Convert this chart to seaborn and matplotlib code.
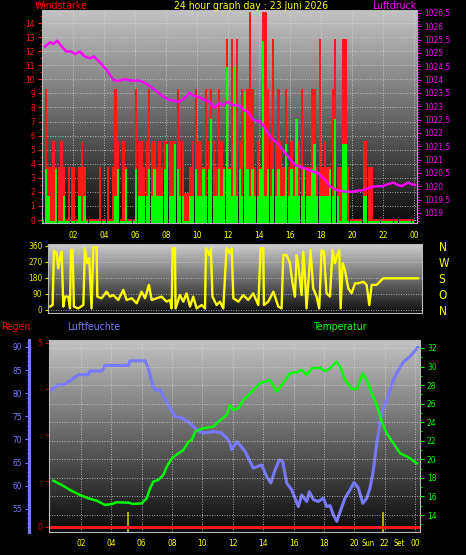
import numpy as np
import matplotlib
matplotlib.use("Agg")
import matplotlib.pyplot as plt
from matplotlib.ticker import FixedLocator, MultipleLocator
import seaborn as sns

# ---------------- data ----------------
# wind, 10-minute slots (6 per hour), values in m/s
wind_gust = [
    0, 9.2, 3.7, 3.7, 5.5, 3.7,
    3.7, 5.5, 3.7, 0, 3.7, 3.7,
    3.7, 0, 3.7, 5.5, 3.7, 0,
    0, 0, 0, 0, 3.7, 0,
    0, 3.7, 0, 3.7, 9.2, 5.5,
    0, 5.5, 3.7, 0, 0, 0,
    9.2, 5.5, 5.5, 3.7, 5.5, 9.2,
    5.5, 5.5, 3.7, 5.5, 3.7, 5.5,
    5.5, 5.5, 5.5, 5.5, 9.2, 5.5,
    5.5, 1.8, 1.8, 3.7, 5.5, 9.2,
    5.5, 5.5, 3.7, 9.2, 5.5, 9.2,
    5.5, 3.7, 9.2, 5.5, 3.7, 12.8,
    3.7, 12.8, 5.5, 12.8, 5.5, 9.2,
    3.7, 9.2, 14.7, 9.2, 3.7, 5.5,
    3.7, 14.7, 14.7, 9.2, 5.5, 12.8,
    5.5, 9.2, 5.5, 3.7, 9.2, 3.7,
    5.5, 3.7, 3.7, 5.5, 9.2, 3.7,
    3.7, 3.7, 9.2, 9.2, 3.7, 12.8,
    3.7, 5.5, 3.7, 3.7, 9.2, 12.8,
    3.7, 3.7, 12.8, 12.8, 3.7, 0,
    0, 0, 0, 0, 5.5, 5.5,
    3.7, 3.7, 0, 0, 0, 0,
    0, 0, 0, 0, 0, 0,
    0, 0, 0, 0, 0, 0,
]
wind_avg = [
    0, 3.7, 1.8, 0, 0, 3.7,
    0, 0, 1.8, 0, 0, 0,
    0, 0, 1.8, 0, 1.8, 0,
    0, 0, 0, 0, 0, 0,
    0, 0, 0, 0, 1.8, 3.7,
    0, 0, 3.7, 0, 0, 0,
    3.7, 1.8, 1.8, 1.8, 1.8, 3.7,
    1.8, 3.7, 1.8, 1.8, 1.8, 3.7,
    5.5, 1.8, 1.8, 5.5, 3.7, 1.8,
    1.8, 0, 0, 1.8, 1.8, 3.7,
    1.8, 1.8, 3.7, 1.8, 3.7, 7.3,
    1.8, 1.8, 3.7, 1.8, 3.7, 11.0,
    3.7, 1.8, 11.0, 1.8, 3.7, 1.8,
    9.2, 3.7, 1.8, 3.7, 1.8, 1.8,
    3.7, 12.8, 1.8, 3.7, 1.8, 3.7,
    1.8, 3.7, 1.8, 1.8, 5.5, 1.8,
    3.7, 1.8, 7.3, 1.8, 1.8, 3.7,
    1.8, 1.8, 3.7, 5.5, 1.8, 1.8,
    1.8, 1.8, 1.8, 3.7, 1.8, 7.3,
    1.8, 0, 5.5, 5.5, 0, 0,
    0, 0, 0, 0, 1.8, 1.8,
    0, 0, 0, 0, 0, 0,
    0, 0, 0, 0, 0, 0,
    0, 0, 0, 0, 0, 0,
]
wind_slot = np.arange(len(wind_gust)) / 6.0

pressure_time = [0.19, 0.52, 0.73, 0.99, 1.27, 1.59, 1.85, 2.13, 2.45, 2.77, 3.1, 3.35,
                 3.74, 4.17, 4.6, 4.92, 5.35, 5.79, 6.32, 6.75, 7.29, 7.83, 8.2, 8.47,
                 8.9, 9.23, 9.5, 9.75, 10.15, 10.4, 10.8, 11.12, 11.44, 11.66, 11.96,
                 12.3, 12.73, 13.0, 13.27, 13.63, 14.06, 14.24, 14.67, 14.9, 15.1,
                 15.53, 15.96, 16.32, 16.7, 17.08, 17.5, 17.83, 18.26, 18.58, 19.01,
                 19.55, 20.08, 20.4, 20.73, 21.05, 21.37, 22.0, 22.3, 22.66, 22.9,
                 23.2, 23.63, 23.85, 24.06]
pressure_val = [1025.24, 1025.40, 1025.34, 1025.46, 1025.24, 1025.05, 1025.06, 1024.96,
                1025.05, 1024.86, 1024.80, 1024.87, 1024.64, 1024.36, 1023.99, 1023.95,
                1024.02, 1023.96, 1023.96, 1023.84, 1023.61, 1023.36, 1023.24, 1023.21,
                1023.17, 1023.32, 1023.51, 1023.40, 1023.34, 1023.26, 1023.17, 1022.94,
                1023.13, 1023.03, 1023.17, 1023.05, 1023.03, 1022.86, 1022.80, 1022.49,
                1022.42, 1022.30, 1021.92, 1021.74, 1021.67, 1021.36, 1021.05, 1020.80,
                1020.72, 1020.64, 1020.55, 1020.49, 1020.24, 1019.99, 1019.86, 1019.80,
                1019.80, 1019.84, 1019.86, 1019.93, 1019.99, 1020.01, 1020.08, 1020.14,
                1020.06, 1020.01, 1020.14, 1020.08, 1020.05]

direction_time = [0.52, 0.69, 0.77, 0.95, 1.05, 1.16, 1.27, 1.38, 1.48, 1.7, 1.81, 1.87,
                  1.98, 2.06, 2.34, 2.67, 2.77, 2.92, 3.05, 3.2, 3.31, 3.53, 3.57, 3.85,
                  4.17, 4.39, 4.6, 4.92, 5.25, 5.46, 5.79, 6.11, 6.43, 6.65, 6.9, 7.08,
                  7.4, 7.72, 8.04, 8.26, 8.37, 8.43, 8.58, 8.62, 8.9, 9.12, 9.33, 9.55,
                  9.76, 9.98, 10.3, 10.52, 10.58, 10.8, 10.9, 11.0, 11.27, 11.48, 11.7,
                  11.91, 12.13, 12.24, 12.35, 12.67, 12.99, 13.31, 13.63, 13.96, 14.11,
                  14.28, 14.32, 14.6, 14.93, 15.25, 15.46, 15.57, 15.78, 16.0, 16.17,
                  16.32, 16.43, 16.53, 16.75, 16.86, 16.96, 17.07, 17.33, 17.5, 17.72,
                  17.89, 18.04, 18.19, 18.36, 18.58, 18.75, 18.9, 19.01, 19.18, 19.27,
                  19.4, 19.55, 19.76, 19.98, 20.2, 20.41, 20.73, 20.95, 21.12, 21.27,
                  21.59, 22.02, 24.27]
direction_val = [19, 28, 334, 319, 234, 291, 328, 19, 75, 75, 9, 338,
                 338, 19, 9, 28, 347, 263, 291, 9, 352, 352, 75, 66,
                 103, 75, 84, 56, 113, 56, 66, 38, 103, 66, 141, 56,
                 66, 75, 47, 56, 9, 347, 347, 9, 84, 47, 94, 19,
                 75, 9, 28, 9, 347, 309, 347, 75, 28, 47, 9,
                 347, 319, 347, 66, 47, 84, 56, 94, 28, 347,
                 347, 28, 47, 103, 19, 9, 309, 309, 263, 150,
                 75, 309, 263, 84, 328, 206, 9, 338, 122, 75,
                 9, 338, 328, 94, 75, 338, 263, 300, 338, 9,
                 263, 225, 122, 94, 150, 150, 159, 141, 28, 141,
                 141, 178, 178]

humidity_time = [0.07, 0.18, 0.51, 0.84, 1.39, 1.82, 2.48, 2.6, 3.37, 3.58, 5.12, 5.23,
                 6.22, 6.44, 6.66, 6.88, 7.21, 7.42, 7.65, 7.86, 8.2, 8.64, 8.97, 9.3,
                 9.62, 9.84, 10.17, 10.72, 11.27, 11.6, 11.82, 11.93, 12.26, 12.47,
                 12.81, 13.35, 13.9, 14.23, 14.5, 14.78, 15.07, 15.29, 15.55, 15.88,
                 16.32, 16.54, 16.87, 17.04, 17.31, 17.63, 17.96, 18.19, 18.41, 18.62,
                 18.85, 19.07, 19.39, 19.72, 19.99, 20.27, 20.56, 20.82, 21.04, 21.26,
                 21.48, 21.59, 21.81, 22.03, 22.25, 22.58, 22.91, 23.24, 23.67, 24.18]
humidity_val = [80.7, 81.1, 81.8, 81.8, 82.9, 84.0, 84.0, 84.8, 84.8, 86.0, 86.0, 87.0,
                87.0, 85.4, 82.5, 80.7, 80.7, 79.3, 78.2, 76.8, 75.0, 74.6, 74.0, 73.2,
                72.1, 71.7, 71.4, 71.7, 71.4, 70.3, 69.2, 67.8, 69.5, 68.8,
                67.4, 63.8, 64.5, 62.0, 60.6, 63.4, 65.6, 65.2, 60.6, 59.1,
                55.5, 58.0, 56.6, 58.7, 57.0, 56.6, 57.3, 55.5, 55.7, 53.7,
                52.3, 54.4, 57.3, 59.1, 60.7, 59.5, 56.2, 57.3, 59.5, 63.4,
                69.2, 71.4, 76.0, 77.5, 79.6, 82.9, 85.0, 86.8, 87.9, 89.9]

temperature_time = [0.18, 0.73, 1.28, 1.94, 2.48, 3.04, 3.58, 4.03, 4.35, 5.12, 5.45, 6.0,
                    6.33, 6.55, 6.77, 7.09, 7.42, 7.65, 7.98, 8.42, 8.75, 9.08, 9.3, 9.52,
                    9.73, 10.06, 10.72, 11.05, 11.6, 11.82, 12.04, 12.37, 12.7, 13.14,
                    13.79, 14.45, 14.89, 15.22, 15.77, 16.21, 16.54, 16.87, 17.2, 17.75,
                    18.08, 18.41, 18.81, 19.07, 19.4, 19.84, 20.17, 20.56, 20.82, 21.15,
                    21.48, 21.81, 22.14, 22.58, 23.02, 23.57, 24.12]
temperature_val = [17.7, 17.24, 16.7, 16.16, 15.8, 15.55, 15.08, 15.19, 15.37, 15.33, 15.19, 15.26,
                   15.8, 16.88, 17.6, 17.78, 18.31, 19.2, 20.1, 20.65, 21.0, 21.9, 22.08, 22.98,
                   23.16, 23.35, 23.52, 24.06, 24.78, 25.86, 25.32, 25.5, 26.4, 27.1,
                   28.2, 28.55, 27.3, 28.0, 29.27, 29.38, 29.63, 29.1, 29.8, 29.88,
                   29.5, 29.8, 30.52, 29.98, 28.55, 27.58, 27.58, 29.27, 28.55, 27.1,
                   25.86, 24.06, 22.8, 21.73, 20.65, 20.22, 19.58]

rain_time = [0.0, 24.25]
rain_val = [0.0, 0.0]

sun_event_time = [5.1, 21.9]          # sunrise / sunset markers
hour_ticks = list(range(2, 25, 2))
hour_labels = ["%02d" % (h % 24) for h in hour_ticks]
pressure_ticks = [1019 + 0.5 * i for i in range(16)]
direction_ticks = [0, 90, 180, 270, 360]
direction_letters = ["N", "O", "S", "W", "N"]

# ---------------- style ----------------
plt.rcParams["font.family"] = ["DejaVu Sans"]
plt.rcParams["font.stretch"] = "condensed"
RED = "#ff1a1a"
GREEN = "#00ff00"
MAGENTA = "#ff00ff"
YELLOW = "#ffff00"
BLUE = "#7878ff"
W, H = 466.0, 555.0
TICK_FS = 6.0


def box(l, t, r, b):
    return [l / W, 1 - b / H, (r - l) / W, (b - t) / H]


def gradient(ax, top, bottom):
    g = np.linspace(top, bottom, 256).reshape(-1, 1)
    ax.imshow(g, extent=[0, 1, 0, 1], transform=ax.transAxes, cmap="gray",
              vmin=0, vmax=255, aspect="auto", zorder=0, interpolation="bilinear")


def frame(ax, color="#b8b8b8"):
    for s in ax.spines.values():
        s.set_color(color)
        s.set_linewidth(0.8)


fig = plt.figure(figsize=(4.66, 5.55), dpi=100, facecolor="black")

# ---------------- panel 1: wind + pressure ----------------
ax1 = fig.add_axes(box(42, 10, 417, 223))
ax1.set_facecolor("black")
gradient(ax1, 195, 12)
base1 = -0.21
ax1.bar(wind_slot + 0.01, np.array(wind_gust) + 0.31, bottom=base1, width=0.15, align="edge",
        color=RED, linewidth=0, zorder=2)
ax1.bar(wind_slot + 0.01, np.array(wind_avg) + 0.12, bottom=base1, width=0.15, align="edge",
        color=GREEN, linewidth=0, zorder=3)
ax1.set_xlim(0, 24.19)
ax1.set_ylim(base1, 14.93)
ax1.set_axisbelow(True)
ax1.yaxis.set_major_locator(FixedLocator(range(0, 16)))
ax1.yaxis.set_minor_locator(MultipleLocator(0.5))
ax1.tick_params(axis="y", which="both", colors=RED, labelsize=TICK_FS, length=3, pad=2)
ax1.tick_params(axis="y", which="minor", length=1.5)
ax1.set_xticks(hour_ticks)
ax1.set_xticklabels(hour_labels)
ax1.tick_params(axis="x", colors=YELLOW, labelsize=TICK_FS, length=0, pad=6)
ax1.grid(True, color="#d8d8d8", linestyle=(0, (1, 2)), linewidth=0.6)
frame(ax1)

ax1p = ax1.twinx()
sns.lineplot(x=pressure_time, y=pressure_val, ax=ax1p, color=MAGENTA, linewidth=1.8,
             sort=False, estimator=None)
ax1p.set_ylim(1018.625, 1026.61)
ax1p.set_yticks(pressure_ticks)
ax1p.set_yticklabels([("%g" % v).replace(".", ",") for v in pressure_ticks])
ax1p.yaxis.set_minor_locator(MultipleLocator(0.1))
ax1p.tick_params(axis="y", which="both", colors=MAGENTA, labelsize=TICK_FS, length=3, pad=2)
ax1p.tick_params(axis="y", which="minor", length=1.2)
ax1p.set_ylabel("")
for s in ax1p.spines.values():
    s.set_visible(False)

# ---------------- panel 2: wind direction ----------------
ax2 = fig.add_axes(box(48, 244, 422, 313))
ax2.set_facecolor("black")
gradient(ax2, 205, 15)
sns.lineplot(x=direction_time, y=direction_val, ax=ax2, color=YELLOW, linewidth=1.7,
             sort=False, estimator=None)
ax2.set_xlim(0.39, 24.52)
ax2.set_ylim(-17, 371)
ax2.set_xticks([])
ax2.set_yticks(direction_ticks)
ax2.tick_params(axis="y", colors="#e8e800", labelsize=TICK_FS, length=2, pad=2)
ax2.set_axisbelow(True)
ax2.grid(True, axis="y", color="#d8d8d8", linestyle=(0, (1, 2)), linewidth=0.6)
ax2.set_ylabel("")
frame(ax2)
ax2r = ax2.twinx()
ax2r.set_ylim(-17, 371)
ax2r.set_yticks(direction_ticks)
ax2r.set_yticklabels(direction_letters)
ax2r.tick_params(axis="y", colors=YELLOW, labelsize=8.5, length=0, pad=12)
for s in ax2r.spines.values():
    s.set_visible(False)

# ---------------- panel 3: rain / humidity / temperature ----------------
ax3 = fig.add_axes(box(49, 340, 420, 532))
ax3.set_facecolor("black")
gradient(ax3, 195, 10)
rain_base = -0.136
ax3.bar(sun_event_time, [0.55, 0.55], bottom=rain_base, width=0.13, color="#a8a800",
        linewidth=0, zorder=2)
sns.lineplot(x=rain_time, y=rain_val, ax=ax3, color=RED, linewidth=2.2, sort=False,
             estimator=None)
ax3.set_xlim(-0.105, 24.33)
ax3.set_ylim(rain_base, 5.08)
ax3.set_yticks([0, 5])
ax3.yaxis.set_minor_locator(FixedLocator([1.25, 2.5, 3.75]))
ax3.tick_params(axis="y", which="both", colors="#e00000", labelsize=TICK_FS, length=3, pad=2)
ax3.set_xticks(hour_ticks)
ax3.set_xticklabels(hour_labels)
ax3.tick_params(axis="x", colors=YELLOW, labelsize=TICK_FS, length=0, pad=5)
ax3.set_axisbelow(True)
ax3.grid(True, axis="x", color="#d8d8d8", linestyle=(0, (1, 2)), linewidth=0.6)
ax3.set_ylabel("")
frame(ax3)

ax3h = ax3.twinx()
sns.lineplot(x=humidity_time, y=humidity_val, ax=ax3h, color=BLUE, linewidth=2.2,
             sort=False, estimator=None)
ax3h.set_ylim(50.0, 91.5)
ax3h.spines["left"].set_position(("axes", -20 / 371))
ax3h.spines["left"].set_visible(True)
ax3h.spines["left"].set_color(BLUE)
ax3h.spines["left"].set_linewidth(2.2)
for k in ("right", "top", "bottom"):
    ax3h.spines[k].set_visible(False)
ax3h.yaxis.set_ticks_position("left")
ax3h.yaxis.set_label_position("left")
ax3h.set_yticks([55, 60, 65, 70, 75, 80, 85, 90])
ax3h.yaxis.set_minor_locator(MultipleLocator(1))
ax3h.tick_params(axis="y", which="both", colors=BLUE, labelsize=TICK_FS, length=3, pad=2)
ax3h.tick_params(axis="y", which="minor", length=1.5)
ax3h.set_ylabel("")

ax3t = ax3.twinx()
ax3t.set_axisbelow(True)
ax3t.grid(True, axis="y", color="#d8d8d8", linestyle=(0, (1, 2)), linewidth=0.6)
sns.lineplot(x=temperature_time, y=temperature_val, ax=ax3t, color=GREEN, linewidth=1.8,
             sort=False, estimator=None)
ax3t.set_ylim(12.17, 32.86)
ax3t.set_yticks(range(14, 33, 2))
ax3t.yaxis.set_minor_locator(MultipleLocator(1))
ax3t.tick_params(axis="y", which="both", colors=GREEN, labelsize=TICK_FS, length=3, pad=2)
ax3t.tick_params(axis="y", which="minor", length=1.5)
ax3t.set_ylabel("")
for s in ax3t.spines.values():
    s.set_visible(False)

# ---------------- texts ----------------
fs = 7.5
fig.text(35 / W, 1 - 6 / H, "Windstärke", color="#ff0000", fontsize=fs, ha="left", va="center")
fig.text(251 / W, 1 - 6 / H, "24 hour graph day : 23 Juni 2026", color=YELLOW, fontsize=fs,
         ha="center", va="center")
fig.text(372 / W, 1 - 6 / H, "Luftdruck", color=MAGENTA, fontsize=fs, ha="left", va="center")
fig.text(1 / W, 1 - 327 / H, "Regen", color="#ff0000", fontsize=fs, ha="left", va="center")
fig.text(67 / W, 1 - 327 / H, "Luftfeuchte", color=BLUE, fontsize=fs, ha="left", va="center")
fig.text(313 / W, 1 - 327 / H, "Temperatur", color=GREEN, fontsize=fs, ha="left", va="center")
fig.text(375 / W, 1 - 543 / H, "Sun", color=YELLOW, fontsize=5.5, ha="right", va="center")
fig.text(394 / W, 1 - 543 / H, "Set", color=YELLOW, fontsize=5.5, ha="left", va="center")

fig.savefig("out.png", dpi=100, facecolor="black")
